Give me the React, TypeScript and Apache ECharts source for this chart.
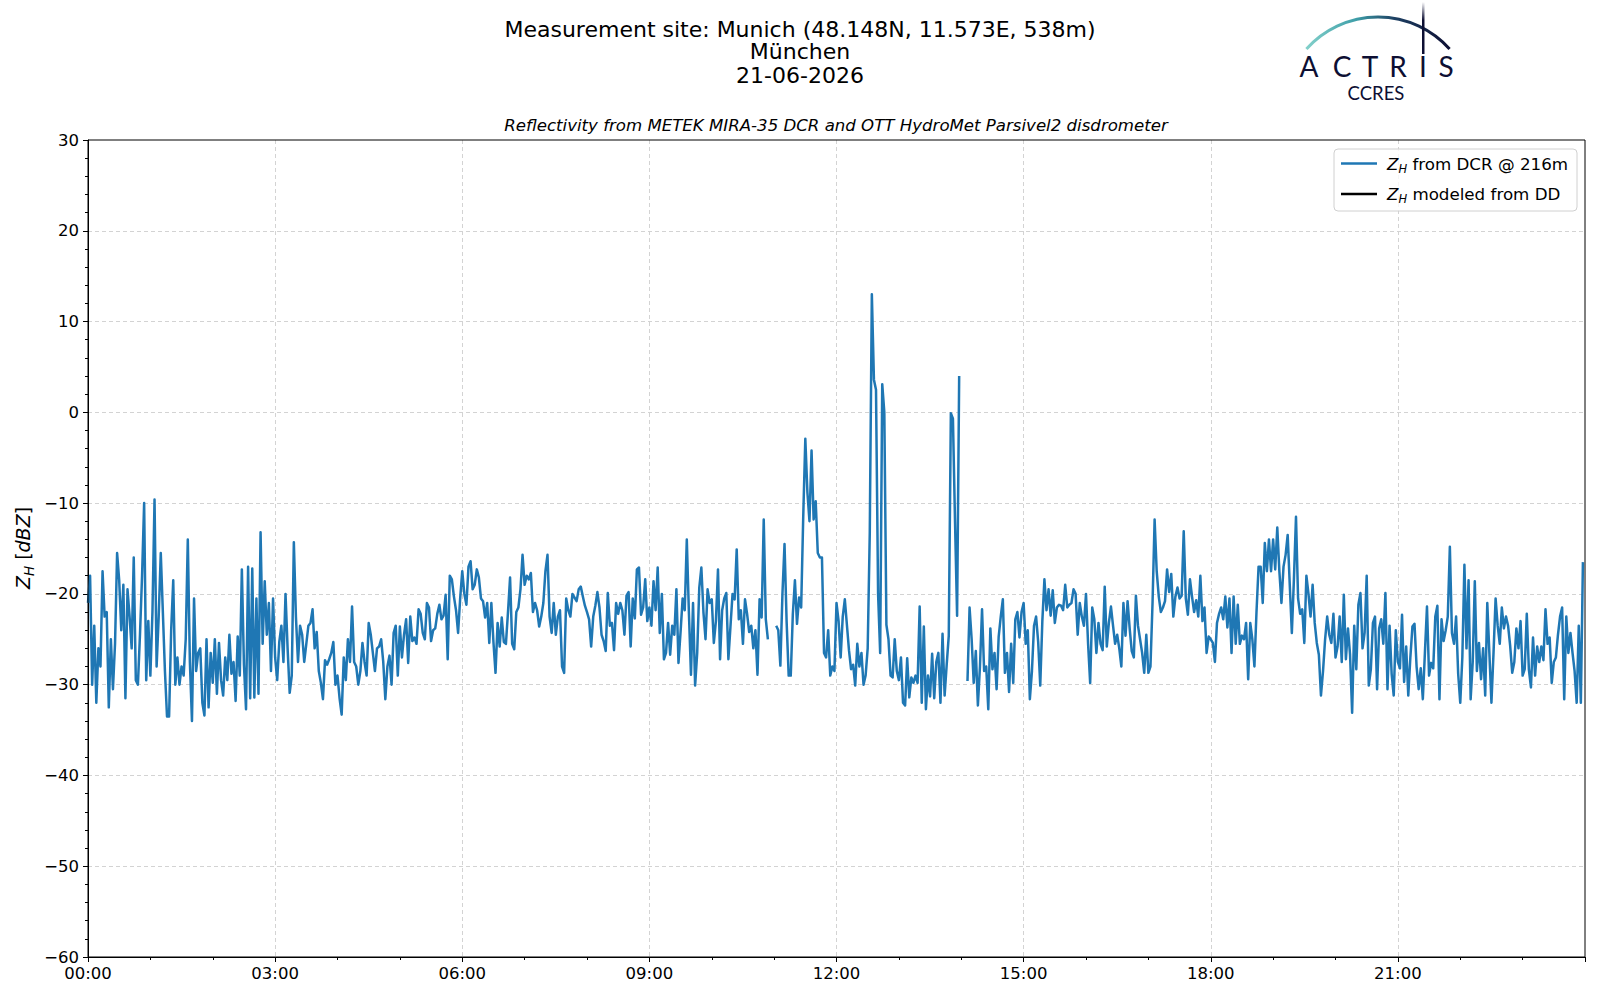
import React, { useEffect, useRef } from "react";
import * as echarts from "echarts";

const TITLE_LINES = [
  "Measurement site: Munich (48.148N, 11.573E, 538m)",
  "München",
  "21-06-2026",
];
const SUBTITLE =
  "Reflectivity from METEK MIRA-35 DCR and OTT HydroMet Parsivel2 disdrometer";
const X_TICK_LABELS = ["00:00", "03:00", "06:00", "09:00", "12:00", "15:00", "18:00", "21:00"];
const Y_TICK_LABELS = ["−60", "−50", "−40", "−30", "−20", "−10", "0", "10", "20", "30"];
const LEGEND_DCR = "{z|Z}{s|H} from DCR @ 216m";
const LEGEND_DD = "{z|Z}{s|H} modeled from DD";

// Z_H from DCR (dBZ), one value every 2 minutes, one array per hour (null = no data)
const h00 = [-21, -18, -30, -23.5, -32, -26, -28, -17.5, -22.5, -22, -32.5, -25, -30.5, -25.5, -15.5, -18.5, -24, -19, -31.5, -19.5, -22.5, -26, -16, -29.5, -30, -24.5, -18, -10, -29.5, -23];
const h01 = [-29, -22, -9.6, -28, -22.5, -15.5, -22, -28.5, -33.5, -33.5, -24, -18.5, -30, -27, -30, -28, -29, -25, -14, -27.5, -34, -20.5, -28.5, -26.5, -26, -32, -33.4, -25, -32.5, -26.5];
const h02 = [-29.8, -25, -31, -25.4, -29.5, -31.2, -27, -29.5, -24.5, -28.8, -27.5, -31.8, -24.7, -29, -17.3, -27.8, -32.7, -17, -31.5, -17.2, -31.4, -20.5, -31, -13.2, -25.5, -18.6, -24.5, -21, -28.5, -20.5];
const h03 = [-27, -29.5, -25.3, -23.5, -27.5, -20, -26, -30.9, -29, -14.3, -22.5, -27.5, -23.5, -24.5, -27.5, -25.5, -23.5, -23.2, -21.7, -26, -24.2, -28.5, -29.8, -31.6, -27.3, -27.8, -27.2, -26.5, -25.3, -30];
const h04 = [-29, -31.5, -33.3, -27, -29.5, -25, -27.5, -21.4, -27.5, -28, -30, -28.5, -25.4, -27.5, -29, -23.2, -24.5, -26.5, -28.5, -26, -25.8, -25, -27.5, -31.6, -28, -26.8, -30, -24.3, -23.5, -29];
const h05 = [-23.6, -27, -24.5, -22.8, -27.6, -22.5, -25.2, -24.8, -25.5, -21.7, -22.2, -24.3, -25, -21, -21.5, -25.2, -24, -23.8, -22.2, -21.2, -22.8, -22.4, -20.1, -27.2, -18, -18.4, -20.3, -21.8, -24.3, -20.5];
const h06 = [-17.5, -20, -21.2, -17, -16.4, -19.5, -19, -17.3, -18.2, -20.5, -20.8, -22.6, -21, -25.4, -21, -25.3, -28.7, -23.2, -25.8, -22.6, -25.3, -25.5, -22, -18.2, -25.5, -26.1, -22, -21.5, -19.5, -15.7];
const h07 = [-19, -18, -18.4, -17.7, -22, -21, -21.8, -23.6, -22.5, -21, -17.5, -15.7, -22.5, -24.3, -21, -24.5, -22.5, -21.8, -28, -28.7, -20.5, -21.8, -22.5, -20, -20.4, -20.8, -19.5, -19.2, -20.3, -21.3];
const h08 = [-22, -22.8, -25.8, -22.5, -21.3, -19.8, -21.5, -24.5, -25.2, -26.3, -19.9, -23.5, -23.2, -26.2, -21, -22.2, -21, -21.8, -24.5, -20.2, -19.8, -25.8, -20.5, -22.7, -17.3, -17.1, -22.3, -21.5, -18.4, -23];
const h09 = [-21.5, -23.5, -18.6, -21.8, -17.1, -24.3, -20, -27.2, -26.5, -23.2, -26.7, -23.5, -24.5, -19.5, -27.6, -24.2, -20.5, -21.8, -14, -22, -28.9, -21, -30.1, -26.5, -19.3, -17.1, -22, -25, -19.5, -21];
const h10 = [-20.6, -25.4, -23, -17.3, -27.2, -21.8, -20.5, -19.9, -27.2, -23.6, -20, -20.6, -15.1, -22.8, -21.8, -25.5, -20.6, -22.2, -24.2, -23.5, -26, -24, -28.9, -20.6, -22.6, -11.8, -22.8, -25, null, null];
const h11 = [null, -23.5, -24, -27.9, -20, -14.5, -23, -29, -29, -22.2, -18.5, -23.3, -20.4, -21.5, -11.5, -2.9, -8.8, -12, -4.2, -11.8, -9.8, -15.5, -16, -16, -26.5, -27, -24, -29, -28, -28.5];
const h12 = [-21, -23, -27, -22.5, -20.6, -23.4, -26.2, -28.3, -27.8, -30.1, -25.5, -28, -26.5, -30, -29, -26, -13.3, 13, 3.6, 2.5, -20, -26.5, 3.1, 0, -23.4, -25, -29, -29.2, -25, -28.5];
const h13 = [-29.5, -27, -32, -32.3, -27.1, -31.4, -29.2, -29.8, -29, -29.8, -21.4, -32, -23.6, -32.7, -29, -31.3, -26.6, -31.5, -27.5, -26.5, -32, -24.4, -31.2, -27.8, -24.6, -0.1, -0.7, -12, -22.4, 4];
const h14 = [null, null, null, -29.6, -21.5, -25, -29.8, -26.3, -32.3, -28, -21.7, -28.5, -28, -32.7, -23.8, -28.3, -26.5, -30.5, -24.7, -22.5, -20.6, -28.7, -26.5, -30.8, -25.5, -29.8, -22.8, -22, -24.8, -22];
const h15 = [-21, -25.5, -24, -31.6, -28.5, -23.5, -22.5, -25.3, -30.1, -23, -18.4, -21.8, -19.5, -22.4, -19.6, -23.2, -21.5, -21.2, -21.3, -21.8, -19, -21.5, -21.2, -21, -19.5, -20, -24.5, -21, -22.5, -23.5];
const h16 = [-20, -25.5, -29.8, -21.5, -22.8, -26.5, -23.2, -25.5, -26.2, -19.2, -25.8, -23.2, -21.4, -23.5, -25.5, -24.5, -26, -28, -21, -24.6, -20.8, -23.8, -26.3, -27, -20.2, -23.5, -25, -26.5, -28.7, -24.5];
const h17 = [-28.7, -28, -21, -11.8, -17.5, -20.3, -22, -21.5, -20.8, -17.3, -19.8, -17.8, -22.5, -20.3, -19.3, -20.5, -20.2, -13.1, -20.5, -22.3, -18.4, -20.3, -22, -20.7, -22.5, -18, -23, -21.5, -26.5, -24.7];
const h18 = [-25, -25.4, -27.5, -23.2, -22.2, -21.5, -22.8, -20.3, -23.7, -20.5, -26.5, -20.3, -25.5, -21.2, -25.5, -24.6, -25, -23.2, -29.4, -23.2, -25, -28, -22, -17, -17, -21, -14.4, -17.5, -14, -17.5];
const h19 = [-14, -17.3, -12.7, -17.5, -21, -17, -15.7, -13.5, -19, -24.3, -18.4, -11.5, -20.5, -22.2, -21.7, -25.4, -18, -20, -22.5, -19, -23.2, -25.4, -26.7, -31.2, -28.5, -25, -22.5, -24.5, -25.4, -22.2];
const h20 = [-27, -25.8, -22.5, -27.5, -20.1, -27.2, -23.8, -26.7, -33.1, -23.5, -28.3, -21.2, -19.9, -26, -24.3, -18, -30.1, -28.3, -23.2, -22.5, -30.5, -23.8, -22.8, -25.5, -19.9, -30.5, -23.5, -28.8, -31.2, -24];
const h21 = [-27.5, -28.2, -22.3, -29.7, -25.8, -31.2, -27, -23.6, -23.3, -28, -30.5, -28.2, -31.6, -26.5, -21.4, -29, -27.6, -28.2, -22.5, -21.3, -31.6, -22.8, -25.2, -24, -22.5, -14.8, -24.3, -25.5, -22.5, -28.8];
const h22 = [-32, -27, -16.8, -26, -18.5, -31.6, -27.5, -18.6, -28.5, -25.4, -29.4, -26, -31.2, -21, -26.5, -32, -26.5, -20.5, -23.5, -25.5, -21.5, -23.8, -22.5, -23.5, -25.7, -28.7, -27.5, -23.8, -26, -23];
const h23 = [-29, -28.3, -22.2, -28.3, -30.3, -24.8, -29, -25.8, -27.5, -25.8, -27.3, -21.7, -25.5, -24.8, -29.8, -27.5, -27, -24.5, -22.5, -21.5, -31.6, -22.5, -26.5, -24.3, -26.5, -28.5, -32, -23.5, -32, -16.5];

const DCR_HOURS: (number | null)[][] = [
  h00, h01, h02, h03, h04, h05, h06, h07, h08, h09, h10, h11,
  h12, h13, h14, h15, h16, h17, h18, h19, h20, h21, h22, h23,
];
// Z_H modeled from disdrometer: no data on this day
const DD_VALUES: [number, number][] = [];

const FONT = "DejaVu Sans";
const NAVY = "#0d0f33";

function buildDcr(): [number, number | null][] {
  const out: [number, number | null][] = [];
  DCR_HOURS.forEach((arr, h) => {
    arr.forEach((v, k) => {
      out.push([h + k / arr.length, v]);
    });
  });
  return out;
}

export default function App() {
  const ref = useRef<HTMLDivElement>(null);
  useEffect(() => {
    if (!ref.current) return;
    const chart = echarts.init(ref.current, null, { renderer: "svg" });
    const legendRich = {
      z: { fontStyle: "italic", fontSize: 16.7, fontFamily: FONT, color: "#000" },
      s: { fontStyle: "italic", fontSize: 11.5, fontFamily: FONT, color: "#000", padding: [10, 0, 0, 0] },
    };
    const splitLine = {
      show: true,
      showMinLine: false,
      showMaxLine: false,
      lineStyle: { color: "#d3d3d3", type: [4, 3], width: 1 },
    };
    const option: any = {
      animation: false,
      backgroundColor: "#fff",
      textStyle: { fontFamily: FONT },
      grid: {
        left: 88,
        right: 15,
        top: 140,
        bottom: 43,
        show: false,
      },
      legend: {
        left: 1334,
        top: 149,
        orient: "vertical",
        data: ["dcr", "dd"],
        icon: "rect",
        itemWidth: 36,
        itemHeight: 2.5,
        itemGap: 11,
        padding: [6, 9, 6, 7],
        backgroundColor: "rgba(255,255,255,0.8)",
        borderColor: "#d0d0d0",
        borderWidth: 1,
        borderRadius: 4,
        selectedMode: false,
        formatter: (name: string) => (name === "dcr" ? LEGEND_DCR : LEGEND_DD),
        textStyle: {
          fontSize: 16.7,
          fontFamily: FONT,
          color: "#000",
          padding: [0, 0, 0, 5],
          rich: legendRich,
        },
      },
      xAxis: {
        type: "value",
        min: 0,
        max: 24,
        interval: 3,
        axisLine: { show: true, onZero: false, lineStyle: { color: "#000", width: 1 } },
        axisTick: { show: true, length: 5, lineStyle: { color: "#000" } },
        minorTick: { show: true, splitNumber: 3, length: 3, lineStyle: { color: "#000" } },
        splitLine,
        axisLabel: {
          fontSize: 16.5,
          color: "#000",
          margin: 8,
          fontFamily: FONT,
          formatter: (v: number) => X_TICK_LABELS[Math.round(v / 3)] ?? "",
        },
      },
      yAxis: {
        type: "value",
        min: -60,
        max: 30,
        interval: 10,
        axisLine: { show: true, onZero: false, lineStyle: { color: "#000", width: 1 } },
        axisTick: { show: true, length: 5, lineStyle: { color: "#000" } },
        minorTick: { show: true, splitNumber: 5, length: 3, lineStyle: { color: "#000" } },
        splitLine,
        axisLabel: {
          fontSize: 16.5,
          color: "#000",
          margin: 9,
          fontFamily: FONT,
          formatter: (v: number) => Y_TICK_LABELS[Math.round((v + 60) / 10)] ?? "",
        },
      },
      series: [
        {
          name: "dcr",
          type: "line",
          data: buildDcr(),
          showSymbol: false,
          symbol: "none",
          connectNulls: false,
          color: "#1f77b4",
          itemStyle: { color: "#1f77b4" },
          lineStyle: { color: "#1f77b4", width: 2.5, join: "round" },
          z: 3,
        },
        {
          name: "dd",
          type: "line",
          data: DD_VALUES,
          showSymbol: false,
          symbol: "none",
          color: "#000",
          itemStyle: { color: "#000" },
          lineStyle: { color: "#000", width: 2 },
        },
      ],
      graphic: [
        {
          type: "rect",
          z: 50,
          silent: true,
          shape: { x: 88, y: 140, width: 1497, height: 817 },
          style: { fill: null, stroke: "#000", lineWidth: 1 },
        },
        ...TITLE_LINES.map((t, i) => ({
          type: "text",
          x: 800,
          y: [29, 51, 75][i],
          style: {
            text: t,
            fontSize: 22,
            fontFamily: FONT,
            fill: "#000",
            align: "center",
            verticalAlign: "middle",
          },
        })),
        {
          type: "text",
          x: 836,
          y: 125,
          style: {
            text: SUBTITLE,
            fontSize: 16.6,
            fontStyle: "italic",
            fontFamily: FONT,
            fill: "#000",
            align: "center",
            verticalAlign: "middle",
          },
        },
        {
          type: "text",
          x: 23,
          y: 548,
          rotation: Math.PI / 2,
          style: {
            text: "{z|Z}{s|H} [{z|dBZ}]",
            fontSize: 19,
            fontFamily: FONT,
            fill: "#000",
            align: "center",
            verticalAlign: "middle",
            rich: {
              z: { fontStyle: "italic", fontSize: 19, fontFamily: FONT, fill: "#000" },
              s: { fontStyle: "italic", fontSize: 13.5, fontFamily: FONT, fill: "#000", padding: [11, 0, 0, 0] },
            },
          },
        },
        // ACTRIS CCRES logo
        {
          type: "arc",
          shape: { cx: 1378, cy: 113, r: 96, startAngle: 3.871, endAngle: 5.554, clockwise: true },
          style: {
            fill: null,
            lineWidth: 3,
            stroke: new echarts.graphic.LinearGradient(0, 0, 1, 0, [
              { offset: 0, color: "#82d0ca" },
              { offset: 0.35, color: "#3e9ea8" },
              { offset: 0.62, color: "#1d3f62" },
              { offset: 1, color: NAVY },
            ]),
          },
        },
        {
          type: "rect",
          shape: { x: 1422, y: 2, width: 2.5, height: 52 },
          style: {
            fill: new echarts.graphic.LinearGradient(0, 0, 0, 1, [
              { offset: 0, color: "rgba(13,15,51,0)" },
              { offset: 0.35, color: NAVY },
              { offset: 1, color: NAVY },
            ]),
          },
        },
        ...["A", "C", "T", "R", "I", "S"].map((ch, i) => ({
          type: "text",
          x: [1309, 1342, 1370, 1398, 1423, 1446][i],
          y: 66,
          style: {
            text: ch,
            fontSize: 28,
            lineHeight: 26,
            fontFamily: "Lato",
            fill: NAVY,
            align: "center",
            verticalAlign: "middle",
          },
        })),
        {
          type: "text",
          x: 1376,
          y: 93,
          style: {
            text: "CCRES",
            fontSize: 18.5,
            lineHeight: 18,
            fontFamily: "Lato",
            fill: NAVY,
            align: "center",
            verticalAlign: "middle",
          },
        },
      ],
    };
    chart.setOption(option);
    return () => chart.dispose();
  }, []);
  return (
    <div
      ref={ref}
      style={{ position: "fixed", left: 0, top: 0, width: 1600, height: 1000, background: "#fff" }}
    />
  );
}
